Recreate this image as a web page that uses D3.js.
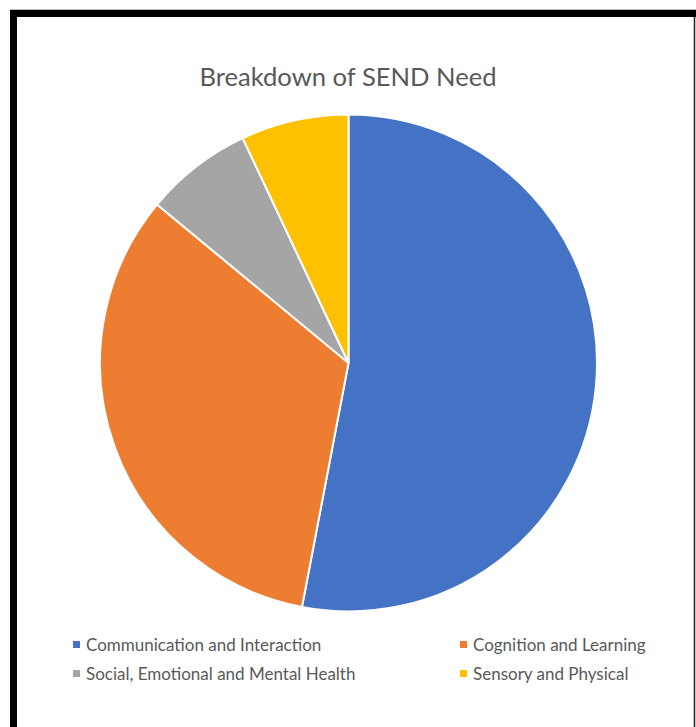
<!DOCTYPE html>
<html>
<head>
<meta charset="utf-8">
<script src="https://cdn.jsdelivr.net/npm/d3@7"></script>
<style>
  body { margin: 0; background: #fff; }
  svg { display: block; }
</style>
</head>
<body>
<svg id="chart" width="696" height="727"></svg>
<script>
// data
const categories = [
  "Communication and Interaction",
  "Cognition and Learning",
  "Social, Emotional and Mental Health",
  "Sensory and Physical",
];
const values = [53, 33, 7, 7];
const colours = ["#4472c4", "#ed7d31", "#a5a5a5", "#ffc000"];
const title = "Breakdown of SEND Need";

const svg = d3.select("#chart");
const font = "Lato, sans-serif";

// frame
svg.append("rect").attr("x", 0).attr("y", 0).attr("width", 696).attr("height", 727).attr("fill", "#fff");
svg.append("line").attr("x1", 10).attr("x2", 696).attr("y1", 9.5).attr("y2", 9.5)
  .attr("stroke", "#bbb").attr("stroke-width", 1);
svg.append("rect").attr("x", 10).attr("y", 10).attr("width", 686).attr("height", 7).attr("fill", "#000");
svg.append("rect").attr("x", 10).attr("y", 10).attr("width", 7).attr("height", 717).attr("fill", "#000");
svg.append("line").attr("x1", 694.5).attr("x2", 694.5).attr("y1", 17).attr("y2", 727)
  .attr("stroke", "#222").attr("stroke-width", 1.5);

// title
svg.append("text")
  .attr("x", 348)
  .attr("y", 86)
  .attr("text-anchor", "middle")
  .attr("font-family", font)
  .attr("font-size", 25.6)
  .attr("fill", "#595959")
  .text(title);

// pie
const cx = 348.5, cy = 363, r = 248.5;
const pie = d3.pie().sort(null).value((d) => d);
const arc = d3.arc().innerRadius(0).outerRadius(r);

const g = svg.append("g").attr("transform", `translate(${cx}, ${cy})`);
g.selectAll("path")
  .data(pie(values))
  .join("path")
  .attr("d", arc)
  .attr("fill", (d, i) => colours[i])
  .attr("stroke", "#fff")
  .attr("stroke-width", 2);

// legend
const legendX = [73, 460];
const legendY = [645, 674];
const legend = svg.append("g");
categories.forEach((c, i) => {
  const lx = legendX[i % 2];
  const ly = legendY[Math.floor(i / 2)];
  legend.append("rect")
    .attr("x", lx).attr("y", ly - 4)
    .attr("width", 7).attr("height", 7)
    .attr("fill", colours[i]);
  legend.append("text")
    .attr("x", lx + 13).attr("y", ly + 5.5)
    .attr("font-family", font)
    .attr("font-size", 17)
    .attr("fill", "#595959")
    .text(c);
});
</script>
</body>
</html>
